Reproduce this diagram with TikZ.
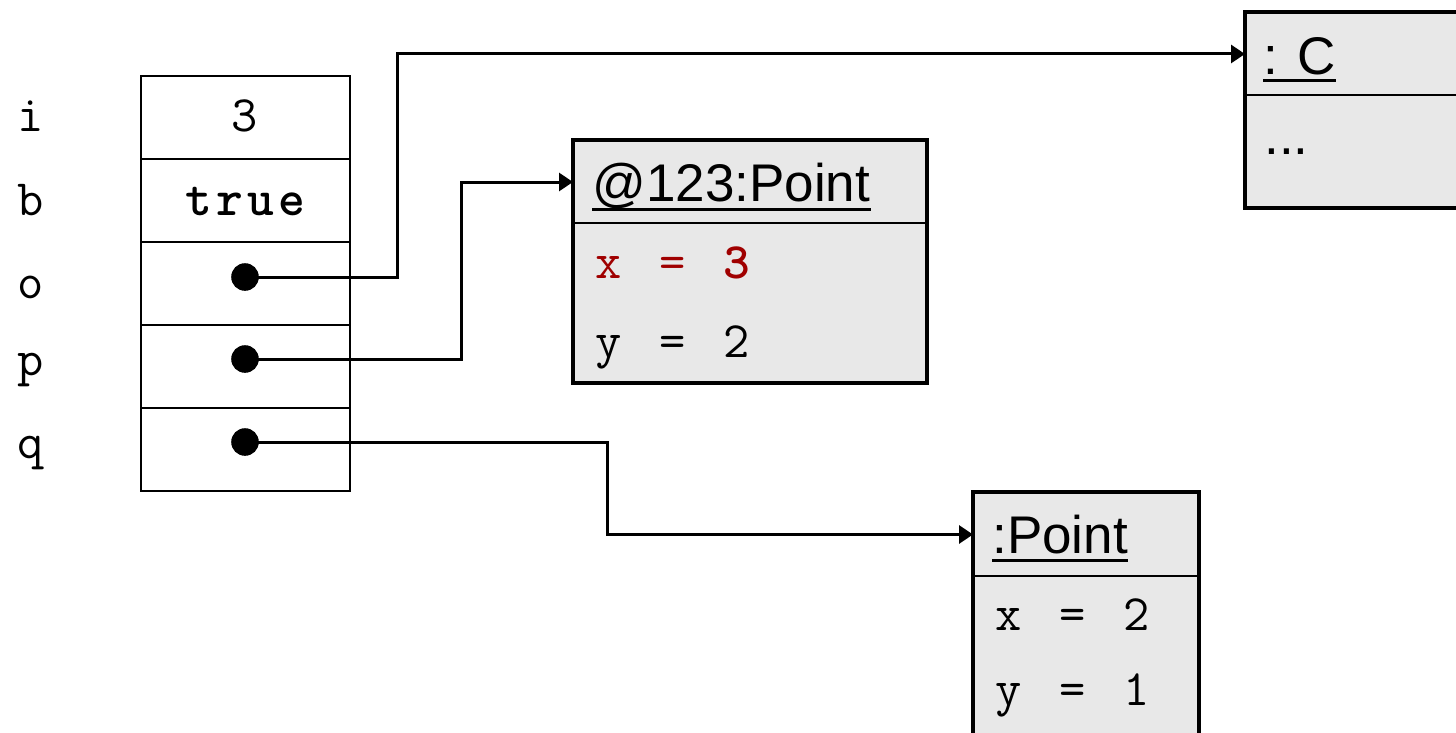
\documentclass[tikz,border=0pt]{standalone}
\usepackage{fontspec}
\setmainfont{Liberation Sans}
\usetikzlibrary{arrows.meta}
\definecolor{objfill}{RGB}{232,232,232}
\definecolor{valred}{RGB}{160,0,0}
\newcommand\mc[1]{\makebox[16pt][c]{#1}}
\newcommand\mcb[1]{\makebox[15.5pt][c]{#1}}
\newcommand\heavy{\bfseries\addfontfeature{FakeBold=1.5}}
\begin{document}
\begin{tikzpicture}[x=0.5pt,y=-0.5pt,
  txt/.style={inner sep=0pt, font=\fontsize{26.5}{30}\selectfont},
  mono/.style={inner sep=0pt, font=\fontsize{25.5}{30}\selectfont\ttfamily},
  cell/.style={draw, line width=1pt, minimum width=104.5pt, minimum height=41.5pt, inner sep=0pt, anchor=north west},
  compart/.style={draw, fill=objfill, line width=1pt, inner sep=0pt, anchor=north west},
  objborder/.style={draw, line width=2pt},
  dot/.style={circle, fill=black, inner sep=0pt, minimum size=13.8pt},
  ptr/.style={line width=1.5pt, -{Triangle[length=7pt,width=9pt]}},
  uline/.style={line width=1.5pt}
]
\useasboundingbox (0,0) rectangle (1456,733);

% variable labels
\node[mono, anchor=base] (li) at (31,132) {i};
\node[mono, anchor=base] (lb) at (31,215) {b};
\node[mono, anchor=base] (lo) at (31,298) {o};
\node[mono, anchor=base] (lp) at (31,375) {p};
\node[mono, anchor=base] (lq) at (31,458) {q};

% stack cells
\node[cell] (ci) at (140,75) {};
\node[cell] (cb) at (140,158) {};
\node[cell] (co) at (140,241) {};
\node[cell] (cp) at (140,324) {};
\node[cell] (cq) at (140,407) {};
\node[mono, anchor=base] (vi) at (245,132) {3};
\node[mono, anchor=base] (vb) at (245,215) {\heavy\mcb{t}\mcb{r}\mcb{u}\mcb{e}};

% object : C
\node[compart, minimum width=112.5pt, minimum height=41pt] (Chead) at (1245,12) {};
\node[compart, minimum width=112.5pt, minimum height=56pt] (Cbody) at (1245,94) {};
\draw[objborder] (Chead.north west) rectangle (Cbody.south east);
\node[txt, anchor=base west] (Ct) at (1263,75) {: C};
\draw[uline] ([yshift=-3pt]Ct.base west) -- ([yshift=-3pt]Ct.base east);
\node[txt, anchor=base west] (Cd) at (1264,155) {...};

% object @123:Point
\node[compart, minimum width=176pt, minimum height=41pt] (Phead) at (573,140) {};
\node[compart, minimum width=176pt, minimum height=79.5pt] (Pbody) at (573,222) {};
\draw[objborder] (Phead.north west) rectangle (Pbody.south east);
\node[txt, anchor=base west] (Pt) at (592,201) {@123:Point};
\draw[uline] ([yshift=-4pt]Pt.base west) -- ([yshift=-4pt]Pt.base east);
\node[mono, anchor=base west, text=valred] (Px) at (592,278) {\mc{x}\mc{}\mc{=}\mc{}\mc{\heavy 3}};
\node[mono, anchor=base west] (Py) at (592,357) {\mc{y}\mc{}\mc{=}\mc{}\mc{2}};

% object :Point
\node[compart, minimum width=112pt, minimum height=41.5pt] (Qhead) at (973,492) {};
\node[compart, minimum width=112pt, minimum height=85pt] (Qbody) at (973,575) {};
\draw[objborder] (Qhead.north west) rectangle (Qbody.south east);
\node[txt, anchor=base west] (Qt) at (992,553) {:Point};
\draw[uline] ([yshift=-3.5pt]Qt.base west) -- ([yshift=-3.5pt]Qt.base east);
\node[mono, anchor=base west] (Qx) at (992,630) {\mc{x}\mc{}\mc{=}\mc{}\mc{2}};
\node[mono, anchor=base west] (Qy) at (992,705) {\mc{y}\mc{}\mc{=}\mc{}\mc{1}};

% pointers
\node[dot] (dO) at (245,277) {};
\node[dot] (dP) at (245,359) {};
\node[dot] (dQ) at (245,442) {};
\coordinate (oBend) at (397,277);
\coordinate (pBend) at (461,359);
\coordinate (qBend) at (607,442);
\draw[ptr] (dO.center) -- (oBend) |- (Chead.west);
\draw[ptr] (dP.center) -- (pBend) |- (Phead.west);
\draw[ptr] (dQ.center) -- (qBend) |- (Qhead.west);
\end{tikzpicture}
\end{document}
